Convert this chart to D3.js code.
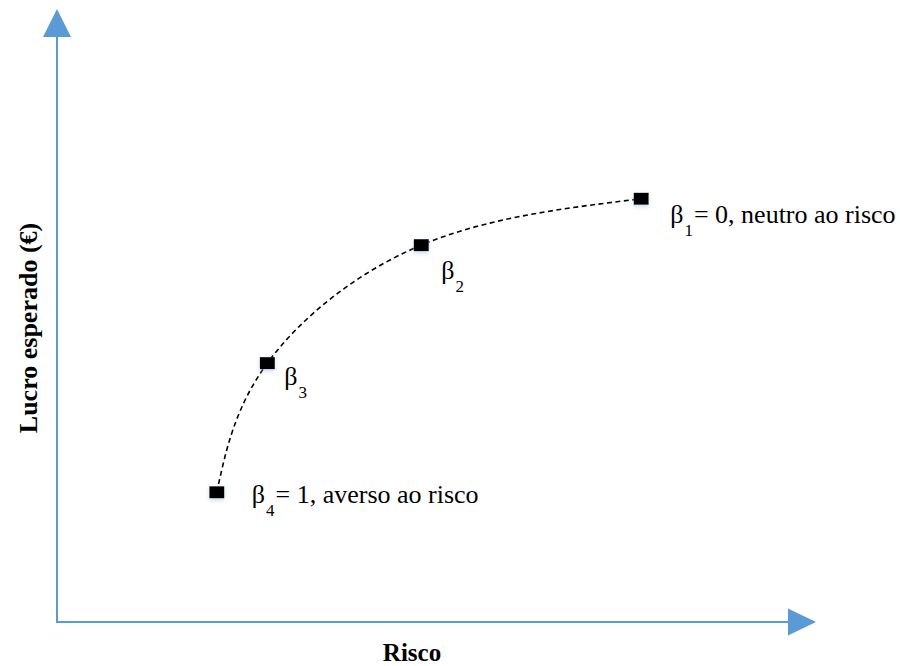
<!DOCTYPE html>
<html><head><meta charset="utf-8">
<script src="https://cdn.jsdelivr.net/npm/d3@7/dist/d3.min.js"></script>
<style>body{margin:0;background:#fff}svg{display:block}</style>
</head><body>
<script>
// Data (arbitrary units: risk vs expected profit)
const pointNames = ["β1", "β2", "β3", "β4"];
const riskValues = [7.97, 4.97, 2.87, 2.18];
const profitValues = [7.21, 6.42, 4.41, 2.21];
const subscripts = ["1", "2", "3", "4"];
const suffixes = ["= 0, neutro ao risco", "", "", "= 1, averso ao risco"];
const xTitle = "Risco";
const yTitle = "Lucro esperado (€)";

const W = 900, H = 666;
const svg = d3.select("body").append("svg").attr("width", W).attr("height", H);

const x = d3.scaleLinear().domain([0, 10]).range([57, 790]);
const y = d3.scaleLinear().domain([0, 10]).range([622, 35]);
const axisColor = "#5b9bd5";

// axes
const x0 = x(0), y0 = y(0);
svg.append("line").attr("x1", x0).attr("y1", y0).attr("x2", x.range()[1]).attr("y2", y0)
  .attr("stroke", axisColor).attr("stroke-width", 2);
svg.append("line").attr("x1", x0).attr("y1", y0 + 1).attr("x2", x0).attr("y2", y.range()[1])
  .attr("stroke", axisColor).attr("stroke-width", 2);
// arrowheads
const xe = x.range()[1], ye = y.range()[1];
svg.append("path").attr("d", `M${xe - 2},${y0 - 13.5} L${xe + 26},${y0} L${xe - 2},${y0 + 13.5} Z`)
  .attr("fill", axisColor);
svg.append("path").attr("d", `M${x0 - 14},${ye + 2} L${x0},${ye - 26} L${x0 + 14},${ye + 2} Z`)
  .attr("fill", axisColor);

// dashed curve
const pts = riskValues.map((r, i) => [r, profitValues[i]]).sort((a, b) => a[0] - b[0]);
const line = d3.line().x(d => x(d[0])).y(d => y(d[1])).curve(d3.curveNatural);
svg.append("path").attr("d", line(pts)).attr("fill", "none").attr("stroke", "#000")
  .attr("stroke-width", 1.6).attr("stroke-dasharray", "5,3.5");

// markers
const defs = svg.append("defs");
const f = defs.append("filter").attr("id", "glow").attr("x", "-50%").attr("y", "-50%").attr("width", "200%").attr("height", "200%");
f.append("feDropShadow").attr("dx", 0).attr("dy", 2).attr("stdDeviation", 2).attr("flood-color", "#9dc3e6").attr("flood-opacity", 0.6);
svg.selectAll("rect.m").data(riskValues).enter().append("rect").attr("class", "m")
  .attr("x", (d) => x(d) - 7.5).attr("y", (d, i) => y(profitValues[i]) - 6)
  .attr("width", 15).attr("height", 12).attr("fill", "#000").attr("filter", "url(#glow)");

// labels
const font = "'Liberation Serif','Times New Roman',serif";
const labelOff = [[29, 24], [20, 34], [17, 22], [35, 11]];
pointNames.forEach((n, i) => {
  const t = svg.append("text").attr("x", x(riskValues[i]) + labelOff[i][0])
    .attr("y", y(profitValues[i]) + labelOff[i][1])
    .attr("font-family", font).attr("font-size", 26).attr("fill", "#000");
  t.append("tspan").text("β");
  t.append("tspan").attr("dy", 13).attr("dx", 1).attr("font-size", 17).text(subscripts[i]);
  if (suffixes[i]) t.append("tspan").attr("dy", -13).attr("dx", 1).text(suffixes[i]);
});

// axis titles
svg.append("text").attr("x", 412).attr("y", 661).attr("text-anchor", "middle")
  .attr("font-family", font).attr("font-weight", "bold").attr("font-size", 25).text(xTitle);
svg.append("text").attr("transform", "translate(37,328) rotate(-90)").attr("text-anchor", "middle")
  .attr("font-family", font).attr("font-weight", "bold").attr("font-size", 26).text(yTitle);
</script>
</body></html>
